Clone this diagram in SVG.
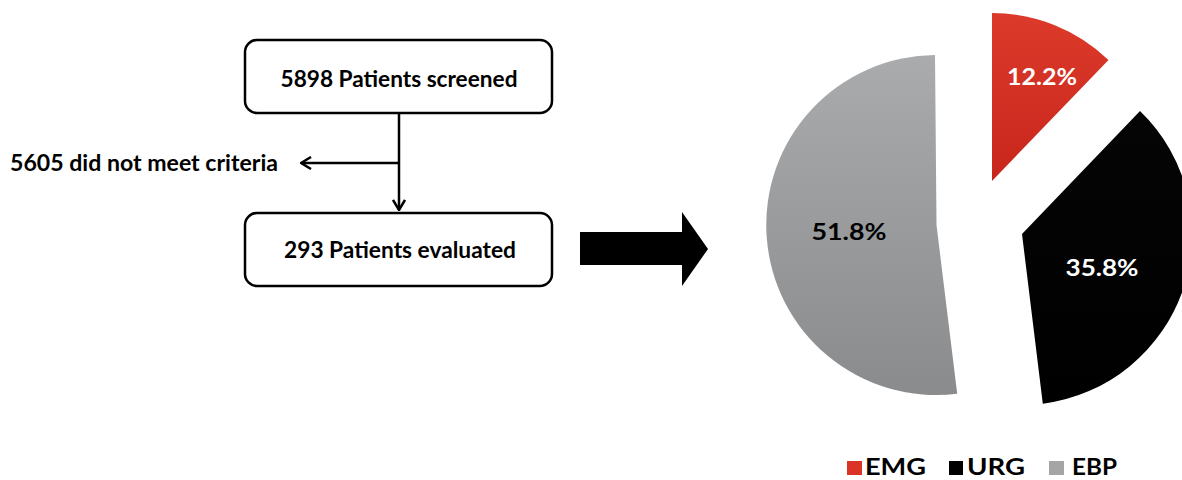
<svg xmlns="http://www.w3.org/2000/svg" width="1182" height="480" viewBox="0 0 1182 480">
<style>
.box{fill:#fff;stroke:#000;stroke-width:2.5}
.t{font-family:Lato,"Open Sans","Liberation Sans",sans-serif;font-weight:700;fill:#000}
.conn{stroke:#000;stroke-width:2.5;fill:none}
</style>
<defs>
<marker id="chev" viewBox="0 0 12 14" refX="11" refY="7" markerWidth="12" markerHeight="14" markerUnits="userSpaceOnUse" orient="auto">
<path d="M1,1 L11,7 L1,13" fill="none" stroke="#000" stroke-width="2.5"/>
</marker>
<linearGradient id="gGray" x1="0" y1="0" x2="0" y2="1"><stop offset="0" stop-color="#a9abad"/><stop offset="1" stop-color="#898b8d"/></linearGradient>
<linearGradient id="gRed" x1="0" y1="0" x2="0" y2="1"><stop offset="0" stop-color="#dc3a2a"/><stop offset="1" stop-color="#c8261c"/></linearGradient>
<linearGradient id="gBlack" x1="0" y1="0" x2="0" y2="1"><stop offset="0" stop-color="#050505"/><stop offset="1" stop-color="#000"/></linearGradient>
</defs>

<g id="node-screened">
<rect class="box" x="245" y="40" width="307" height="73" rx="12"/>
<text class="t" x="399" y="87" font-size="22" text-anchor="middle" textLength="237" lengthAdjust="spacingAndGlyphs">5898 Patients screened</text>
</g>
<g id="node-evaluated">
<rect class="box" x="245" y="213" width="307" height="73" rx="12"/>
<text class="t" x="400" y="258" font-size="22" text-anchor="middle" textLength="232" lengthAdjust="spacingAndGlyphs">293 Patients evaluated</text>
</g>
<g id="node-excluded">
<text class="t" x="10" y="171" font-size="22" textLength="268" lengthAdjust="spacingAndGlyphs">5605 did not meet criteria</text>
</g>

<g id="connectors">
<line class="conn" x1="399" y1="114" x2="399" y2="210" marker-end="url(#chev)"/>
<line class="conn" x1="399" y1="163" x2="301" y2="163" marker-end="url(#chev)"/>
<polygon points="580,232 682,232 682,212 708,249 682,286 682,265 580,265" fill="#000"/>
</g>

<g id="pie">
<g id="slice-ebp">
<path d="M936.5,225 L935,55 A170,170 0 1 0 957.2,393.7 Z" fill="url(#gGray)"/>
<text class="t" x="849" y="240" font-size="23" text-anchor="middle" fill="#1a1a1a" textLength="75" lengthAdjust="spacingAndGlyphs">51.8%</text>
</g>
<g id="slice-emg">
<path d="M992,181 L992,13 A168,168 0 0 1 1108.5,60 Z" fill="url(#gRed)"/>
<text class="t" x="1042" y="85" font-size="23" text-anchor="middle" style="fill:#fff" textLength="70" lengthAdjust="spacingAndGlyphs">12.2%</text>
</g>
<g id="slice-urg">
<path d="M1022,234 L1140,111 A171,171 0 0 1 1042.8,403.7 Z" fill="url(#gBlack)"/>
<text class="t" x="1102" y="276" font-size="23" text-anchor="middle" style="fill:#fff" textLength="73" lengthAdjust="spacingAndGlyphs">35.8%</text>
</g>
</g>

<g id="legend">
<rect x="847" y="461" width="15" height="14" fill="#d93426"/>
<text class="t" x="865" y="475" font-size="23" textLength="61" lengthAdjust="spacingAndGlyphs">EMG</text>
<rect x="949" y="461" width="14" height="14" fill="#000"/>
<text class="t" x="967" y="475" font-size="23" textLength="58" lengthAdjust="spacingAndGlyphs">URG</text>
<rect x="1049" y="461" width="15" height="14" fill="#a5a5a5"/>
<text class="t" x="1072" y="475" font-size="23" textLength="45" lengthAdjust="spacingAndGlyphs">EBP</text>
</g>
</svg>
